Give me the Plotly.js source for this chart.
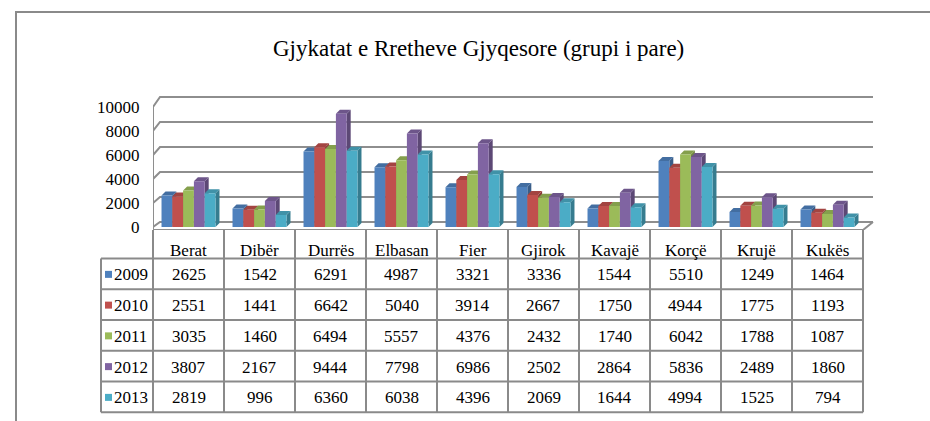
<!DOCTYPE html>
<html>
<head>
<meta charset="utf-8">
<script src="https://cdn.plot.ly/plotly-3.0.1.min.js"></script>
<style>
.main-svg text, svg text { font-family: 'Liberation Serif', serif !important; }
</style>
</head>
<body style="margin:0">
<div id="chart"></div>
<script>
// ---- data ----
const categories = ['Berat','Dibër','Durrës','Elbasan','Fier','Gjirok','Kavajë','Korçë','Krujë','Kukës'];
const years = ['2009','2010','2011','2012','2013'];
const v2009 = [2625,1542,6291,4987,3321,3336,1544,5510,1249,1464];
const v2010 = [2551,1441,6642,5040,3914,2667,1750,4944,1775,1193];
const v2011 = [3035,1460,6494,5557,4376,2432,1740,6042,1788,1087];
const v2012 = [3807,2167,9444,7798,6986,2502,2864,5836,2489,1860];
const v2013 = [2819,996,6360,6038,4396,2069,1644,4994,1525,794];
const yTicks = [0,2000,4000,6000,8000,10000];
const titleText = 'Gjykatat e Rretheve Gjyqesore (grupi i pare)';

// ---- styling / geometry ----
const series = [v2009, v2010, v2011, v2012, v2013];
const colors = ['#4F81BD','#C0504D','#9BBB59','#8064A2','#4BACC6'];
const W = 930, H = 421;
const X0 = 153, COL = 71;          // pixel of x=-0.5, pixels per category
const Y0 = 227, KY = 0.012;        // pixel of y=0, pixels per unit
const XMAX = 9.7, YMIN = -250, YMAX = 11000;
const BARGAP = 0.24;
const FAM = 'Liberation Serif';
const gridColor = '#8E8E8E';

function shade(hex, f) {
  const n = parseInt(hex.slice(1), 16);
  const r = Math.round(((n >> 16) & 255) * f), g = Math.round(((n >> 8) & 255) * f), b = Math.round((n & 255) * f);
  return 'rgb(' + r + ',' + g + ',' + b + ')';
}
const px = p => p / W;
const py = p => 1 - p / H;

const traces = series.map((vals, s) => ({
  type: 'bar', name: years[s], x: categories.map((c, i) => i), y: vals,
  marker: {color: colors[s], line: {width: 0}}, hoverinfo: 'skip'
}));

const shapes = [];
const backV = v => (5 + 0.0125 * v) / KY;
yTicks.forEach(v => {
  const bv = backV(v);
  shapes.push({type: 'path', xref: 'x', yref: 'y', layer: 'below',
    path: 'M -0.5,' + v + ' L ' + (-0.5 + 7 / COL) + ',' + bv + ' L ' + (9.5 + 10 / COL) + ',' + bv,
    line: {color: gridColor, width: 2}});
});
shapes.push({type: 'line', xref: 'x', yref: 'y', layer: 'below', x0: -0.5, x1: -0.5, y0: YMIN, y1: 10000 + 150,
  line: {color: gridColor, width: 2}});
shapes.push({type: 'path', xref: 'x', yref: 'y', layer: 'below',
  path: 'M -0.5,' + YMIN + ' L 9.5,' + YMIN + ' L ' + (9.5 + 10 / COL) + ',' + backV(0),
  line: {color: gridColor, width: 2}});

const groupW = 1 - BARGAP, bw = groupW / series.length;
const dx = 4 / COL, dy = 4 / KY;
series.forEach((vals, s) => {
  vals.forEach((v, i) => {
    const x0 = i - groupW / 2 + s * bw, x1 = x0 + bw;
    shapes.push({type: 'path', xref: 'x', yref: 'y', layer: 'below',
      path: 'M ' + x1 + ',0 L ' + x1 + ',' + v + ' L ' + (x1 + dx) + ',' + (v + dy) + ' L ' + (x1 + dx) + ',' + dy + ' Z',
      fillcolor: shade(colors[s], 0.72), line: {width: 0}});
    shapes.push({type: 'path', xref: 'x', yref: 'y', layer: 'below',
      path: 'M ' + x0 + ',' + v + ' L ' + x1 + ',' + v + ' L ' + (x1 + dx) + ',' + (v + dy) + ' L ' + (x0 + dx) + ',' + (v + dy) + ' Z',
      fillcolor: shade(colors[s], 0.85), line: {width: 0}});
  });
});

const tblTop = 230, hdrBottom = 258.5, rowH = 30.75, legLeft = 101;
const tblBottom = hdrBottom + rowH * years.length;
const tLine = {color: '#8A8A8A', width: 2};
for (let k = 0; k <= categories.length; k++) {
  const xp = X0 + k * COL;
  shapes.push({type: 'line', xref: 'paper', yref: 'paper', x0: px(xp), x1: px(xp), y0: py(tblTop), y1: py(tblBottom), line: tLine});
}
shapes.push({type: 'line', xref: 'paper', yref: 'paper', x0: px(legLeft), x1: px(legLeft), y0: py(hdrBottom), y1: py(tblBottom), line: tLine});
for (let r = 0; r <= years.length; r++) {
  const yp = hdrBottom + r * rowH;
  shapes.push({type: 'line', xref: 'paper', yref: 'paper', x0: px(legLeft), x1: px(X0 + categories.length * COL), y0: py(yp), y1: py(yp), line: tLine});
}
shapes.push({type: 'path', xref: 'paper', yref: 'paper',
  path: 'M ' + px(16) + ',0 L ' + px(16) + ',' + py(12) + ' L 1,' + py(12),
  line: {color: '#8A8A8A', width: 2}});

const annotations = [];
annotations.push({xref: 'paper', yref: 'paper', x: px(478), y: py(48), xanchor: 'center', yanchor: 'middle',
  text: titleText, showarrow: false, font: {family: FAM, size: 23}});
categories.forEach((c, i) => {
  annotations.push({xref: 'paper', yref: 'paper', x: px(X0 + (i + 0.5) * COL), y: py(250), xanchor: 'center', yanchor: 'middle',
    text: c, showarrow: false, font: {family: FAM, size: 17}});
});
series.forEach((vals, s) => {
  const yc = hdrBottom + (s + 0.5) * rowH + 1;
  shapes.push({type: 'rect', xref: 'paper', yref: 'paper', x0: px(105), x1: px(112), y0: py(yc - 4), y1: py(yc + 3),
    fillcolor: colors[s], line: {width: 0}});
  annotations.push({xref: 'paper', yref: 'paper', x: px(112), y: py(yc), xanchor: 'left', yanchor: 'middle',
    text: years[s], showarrow: false, font: {family: FAM, size: 17}});
  vals.forEach((v, i) => {
    annotations.push({xref: 'paper', yref: 'paper', x: px(X0 + (i + 0.5) * COL), y: py(yc), xanchor: 'center', yanchor: 'middle',
      text: String(v), showarrow: false, font: {family: FAM, size: 17}});
  });
});

const layout = {
  width: W, height: H, margin: {l: 0, r: 0, t: 0, b: 0},
  font: {family: FAM, size: 17, color: '#000000'},
  paper_bgcolor: '#ffffff', plot_bgcolor: 'rgba(0,0,0,0)',
  showlegend: false, barmode: 'group', bargap: BARGAP, bargroupgap: 0,
  xaxis: {range: [-0.5, XMAX], domain: [px(X0), px(X0 + (XMAX + 0.5) * COL)], visible: false, fixedrange: true},
  yaxis: {range: [YMIN, YMAX], domain: [py(Y0 - YMIN * KY), py(Y0 - YMAX * KY)],
    tickvals: yTicks, ticktext: yTicks.map(String), showgrid: false, zeroline: false, showline: false,
    ticks: 'outside', ticklen: 9, tickcolor: 'rgba(0,0,0,0)', tickfont: {family: FAM, size: 17}, fixedrange: true},
  shapes: shapes, annotations: annotations
};

Plotly.newPlot('chart', traces, layout, {displayModeBar: false, staticPlot: true});
</script>
</body>
</html>
